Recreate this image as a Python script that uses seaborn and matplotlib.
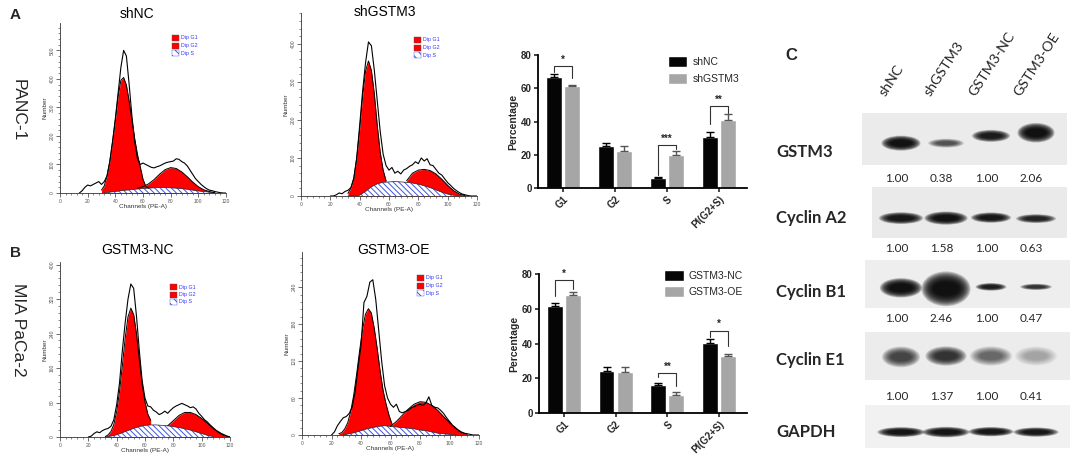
import numpy as np
import pandas as pd
import matplotlib
matplotlib.use("Agg")
import matplotlib.pyplot as plt
from matplotlib import transforms
from matplotlib.patches import Ellipse, Patch, Rectangle
from matplotlib.ticker import MultipleLocator
import seaborn as sns

W, H = 1074, 462

# ---------------- flow cytometry (ModFit) traces ----------------
# peak arrays hold the visible top of each red peak; S phase is drawn under them
shnc_raw = [0, 8, 20, 28, 25, 30, 35, 40, 30, 40, 60, 110, 180, 260, 350, 440, 500,
            480, 380, 270, 180, 120, 100, 105, 100, 95, 90, 88, 92, 95, 100, 105,
            108, 110, 112, 120, 118, 110, 105, 95, 80, 65, 50, 40, 30, 22, 15, 10,
            8, 5, 3, 1, 0, 0]
shnc_g1 = [10, 25, 60, 110, 180, 255, 338, 395, 405, 378, 322, 255, 190, 135, 92, 48, 24, 17]
shnc_g2 = [17, 22, 32, 47, 66, 82, 89, 86, 74, 57, 38, 22, 11, 5, 1]
shnc_s = [1, 3, 5, 8, 10, 12, 14, 16, 17, 18, 19, 19, 18, 17, 15, 13, 10, 7, 5, 3, 1]

shgstm3_raw = [0, 0, 3, 8, 6, 12, 15, 22, 45, 100, 185, 275, 350, 405, 395, 330, 250,
               170, 110, 80, 68, 75, 60, 65, 58, 68, 72, 78, 82, 90, 85, 100, 92, 98,
               82, 80, 70, 60, 55, 45, 35, 28, 20, 14, 9, 5, 3, 1, 0, 0, 0]
shgstm3_g1 = [7, 20, 48, 100, 175, 262, 328, 355, 330, 268, 185, 115, 68, 40]
shgstm3_g2 = [40, 60, 68, 70, 67, 58, 44, 28, 14, 5, 1]
shgstm3_s = [0, 0, 2, 12, 24, 32, 36, 37, 38, 37, 36, 34, 31, 27, 22, 16, 10, 5, 2, 0]

nc_raw = [0, 2, 8, 12, 10, 15, 18, 20, 25, 40, 75, 125, 200, 265, 320, 355, 345, 280,
          200, 130, 90, 72, 70, 62, 58, 52, 55, 60, 55, 62, 68, 72, 75, 78, 75, 72,
          68, 70, 65, 55, 48, 40, 35, 28, 22, 16, 12, 8, 5, 2, 0]
nc_g1 = [1, 5, 13, 29, 59, 105, 165, 229, 279, 299, 284, 239, 179, 123, 81, 53, 39]
nc_g2 = [26, 38, 50, 57, 57, 52, 43, 32, 20, 10, 3, 0]
nc_s = [0, 2, 5, 10, 15, 20, 24, 27, 28, 28, 27, 26, 24, 22, 19, 16, 12, 8, 4, 1]

oe_raw = [0, 5, 15, 22, 28, 30, 35, 45, 70, 110, 145, 215, 225, 248, 252, 220, 170,
          120, 80, 60, 50, 45, 50, 38, 36, 38, 40, 44, 46, 48, 50, 48, 52, 62, 48,
          45, 44, 40, 35, 28, 22, 16, 12, 8, 5, 3, 2, 1, 0, 0, 0]
oe_g1 = [2, 4, 10, 20, 38, 64, 98, 136, 170, 196, 205, 198, 173, 140, 103, 72, 50, 32, 18]
oe_g2 = [14, 22, 32, 42, 50, 54, 53, 48, 40, 30, 20, 11, 4, 1]
oe_s = [0, 2, 4, 7, 10, 12, 14, 15, 14, 13, 12, 11, 10, 8, 7, 5, 3, 2, 1, 0]

# ---------------- bar charts ----------------
phases = ["G1", "G2", "S", "PI(G2+S)"]
panc_shnc = [67, 25, 5.8, 30.4]
panc_shnc_err = [1.8, 2.0, 1.0, 3.0]
panc_shgstm3 = [61.2, 22.4, 20, 41]
panc_shgstm3_err = [1.0, 2.6, 2.3, 3.4]
panc_sig = ["*", "", "***", "**"]
panc_sig_top = [73.4, None, 26, 49.4]
panc_sig_left = [69.5, None, 8, 38.5]
panc_sig_right = [66, None, 23.5, 45]

mia_nc = [61.4, 24.4, 16.1, 40.3]
mia_nc_err = [1.9, 2.1, 1.2, 2.3]
mia_oe = [67.8, 23.4, 10.2, 32.6]
mia_oe_err = [1.9, 2.9, 1.7, 1.4]
mia_sig = ["*", "", "**", "*"]
mia_sig_top = [76.4, None, 23, 47.4]
mia_sig_left = [67.2, None, 20.5, 43.5]
mia_sig_right = [71.4, None, 15.4, 38.4]

# ---------------- western blot ----------------
blot_lanes = ["shNC", "shGSTM3", "GSTM3-NC", "GSTM3-OE"]
blot_proteins = ["GSTM3", "Cyclin A2", "Cyclin B1", "Cyclin E1", "GAPDH"]
blot_ratios = [["1.00", "0.38", "1.00", "2.06"],
               ["1.00", "1.58", "1.00", "0.63"],
               ["1.00", "2.46", "1.00", "0.47"],
               ["1.00", "1.37", "1.00", "0.41"]]
band_darkness = [[0.95, 0.42, 0.82, 1.0],
                 [0.88, 0.95, 0.88, 0.75],
                 [1.0, 1.0, 0.8, 0.62],
                 [0.5, 0.62, 0.32, 0.14],
                 [0.92, 0.93, 0.9, 0.88]]

sns.set_theme(style="ticks")
plt.rcParams["font.family"] = ["Liberation Sans", "DejaVu Sans"]
plt.rcParams["hatch.linewidth"] = 0.7

fig = plt.figure(figsize=(W / 100, H / 100), dpi=100)


def px_axes(x, y, w, h):
    return fig.add_axes([x / W, 1 - (y + h) / H, w / W, h / H])


def px_text(x, y, s, **kw):
    fig.text(x / W, 1 - y / H, s, **kw)


# ---------------- histograms ----------------
hist_panels = [
    dict(title="shNC", raw=shnc_raw, raw_ch=np.arange(14, 121, 2),
         g1=shnc_g1, g1_ch=np.arange(30, 65, 2), g2=shnc_g2, g2_ch=np.arange(56, 113, 4),
         s=shnc_s, s_ch=np.arange(32, 113, 4), ymax=596, ystep=100,
         box=(60, 23, 166, 170), title_xy=(137, 14), leg_xy=(172, 38)),
    dict(title="shGSTM3", raw=shgstm3_raw, raw_ch=np.arange(20, 121, 2),
         g1=shgstm3_g1, g1_ch=np.arange(32, 59, 2), g2=shgstm3_g2, g2_ch=np.arange(72, 113, 4),
         s=shgstm3_s, s_ch=np.arange(32, 109, 4), ymax=481, ystep=100,
         box=(301, 13, 176, 183), title_xy=(385, 12), leg_xy=(414, 40)),
    dict(title="GSTM3-NC", raw=nc_raw, raw_ch=np.arange(20, 121, 2),
         g1=nc_g1, g1_ch=np.arange(32, 65, 2), g2=nc_g2, g2_ch=np.arange(76, 121, 4),
         s=nc_s, s_ch=np.arange(32, 109, 4), ymax=406, ystep=80,
         box=(60, 262, 170, 175), title_xy=(137, 250), leg_xy=(170, 287)),
    dict(title="GSTM3-OE", raw=oe_raw, raw_ch=np.arange(20, 121, 2),
         g1=oe_g1, g1_ch=np.arange(25, 62, 2), g2=oe_g2, g2_ch=np.arange(60, 113, 4),
         s=oe_s, s_ch=np.arange(28, 105, 4), ymax=297, ystep=60,
         box=(302, 252, 177, 183), title_xy=(393, 250), leg_xy=(417, 278)),
]

for p in hist_panels:
    ax = px_axes(*p["box"])
    ax.fill_between(p["g1_ch"], 0, p["g1"], color="#ff0000", lw=0, zorder=2)
    ax.fill_between(p["g2_ch"], 0, p["g2"], color="#ff0000", lw=0, zorder=2)
    ax.fill_between(p["s_ch"], 0, p["s"], facecolor="white", edgecolor="#3f55e0",
                    hatch="\\\\\\\\\\\\", lw=0, zorder=3)
    ax.plot(p["s_ch"], p["s"], color="#222222", lw=0.5, zorder=4)
    ax.plot(p["g1_ch"], p["g1"], color="black", lw=0.7, zorder=4)
    ax.plot(p["g2_ch"], p["g2"], color="black", lw=0.7, zorder=4)
    ax.plot(p["raw_ch"], p["raw"], color="black", lw=0.8, zorder=5)
    ax.set_xlim(0, 120)
    ax.set_ylim(0, p["ymax"])
    ax.set_facecolor("none")
    for side in ("top", "right"):
        ax.spines[side].set_visible(False)
    for side in ("left", "bottom"):
        ax.spines[side].set_linewidth(0.6)
        ax.spines[side].set_color("#333333")
    ax.xaxis.set_major_locator(MultipleLocator(20))
    ax.xaxis.set_minor_locator(MultipleLocator(4))
    ax.yaxis.set_major_locator(MultipleLocator(p["ystep"]))
    ax.yaxis.set_minor_locator(MultipleLocator(p["ystep"] / 5))
    ax.tick_params(which="major", length=3, width=0.5, color="#333333",
                   labelsize=3.6, labelcolor="#555555", pad=1)
    ax.tick_params(which="minor", length=1.6, width=0.4, color="#333333")
    ax.tick_params(axis="y", labelrotation=90)
    for lab in ax.get_yticklabels():
        lab.set_verticalalignment("center")
    ax.set_xlabel("Channels (PE-A)", fontsize=4.6, labelpad=0.5, color="#333333")
    ax.set_ylabel("Number", fontsize=4.6, labelpad=1.5, color="#333333")
    px_text(p["title_xy"][0], p["title_xy"][1], p["title"], fontsize=10,
            ha="center", va="center", color="black")
    lx, ly = p["leg_xy"]
    for r, lab in enumerate(["Dip G1", "Dip G2", "Dip S"]):
        yy = ly + r * 7.5
        if lab == "Dip S":
            rect = Rectangle((lx / W, 1 - (yy + 3) / H), 7 / W, 6 / H,
                             transform=fig.transFigure, facecolor="white",
                             edgecolor="#3f55e0", hatch="\\\\\\\\", lw=0.3)
        else:
            rect = Rectangle((lx / W, 1 - (yy + 3) / H), 7 / W, 6 / H,
                             transform=fig.transFigure, facecolor="#ff0000",
                             edgecolor="#555555", lw=0.3)
        fig.add_artist(rect)
        px_text(lx + 9, yy, lab, fontsize=3.8, color="#3333ff", va="center")

# row / panel labels
px_text(10, 15, "A", fontsize=11, fontweight="bold", va="center")
px_text(10, 253, "B", fontsize=11, fontweight="bold", va="center")
px_text(785, 55, "C", fontsize=12, fontweight="bold", va="center")
px_text(18, 110, "PANC-1", fontsize=12.5, rotation=-90, ha="center", va="center")
px_text(18, 330, "MIA PaCa-2", fontsize=12.5, rotation=-90, ha="center", va="center")


# ---------------- bar charts ----------------
def draw_bars(box, a_name, a_vals, a_err, b_name, b_vals, b_err,
              sig, sig_top, sig_left, sig_right, leg_anchor):
    ax = px_axes(*box)
    df = pd.DataFrame({"phase": phases * 2,
                       "group": [a_name] * 4 + [b_name] * 4,
                       "pct": a_vals + b_vals})
    sns.barplot(data=df, x="phase", y="pct", hue="group", hue_order=[a_name, b_name],
                palette=["#050505", "#a6a6a6"], saturation=1, width=0.7, gap=0.12,
                errorbar=None, legend=False, ax=ax)
    bars = sorted(ax.patches, key=lambda b: b.get_x())
    xs = [b.get_x() + b.get_width() / 2 for b in bars]
    xa, xb = xs[0::2], xs[1::2]
    ax.errorbar(xa, a_vals, yerr=[[0] * 4, a_err], fmt="none", ecolor="black",
                elinewidth=1.0, capsize=3, capthick=1.0)
    ax.errorbar(xb, b_vals, yerr=[[0] * 4, b_err], fmt="none", ecolor="#555555",
                elinewidth=1.0, capsize=3, capthick=1.0)
    for i, star in enumerate(sig):
        if not star:
            continue
        ax.plot([xa[i], xa[i], xb[i], xb[i]],
                [sig_left[i], sig_top[i], sig_top[i], sig_right[i]],
                color="#333333", lw=0.8)
        ax.text((xa[i] + xb[i]) / 2, sig_top[i] + 0.8, star, ha="center", va="bottom",
                fontsize=7, fontweight="bold")
    ax.set_xlim(-0.48, 3.54)
    ax.set_ylim(0, 80)
    ax.yaxis.set_major_locator(MultipleLocator(20))
    sns.despine(ax=ax)
    for side in ("left", "bottom"):
        ax.spines[side].set_linewidth(1.3)
        ax.spines[side].set_color("black")
    ax.tick_params(length=3, width=1.2, labelsize=7, pad=1.5)
    for lab in ax.get_xticklabels() + ax.get_yticklabels():
        lab.set_fontweight("bold")
    plt.setp(ax.get_xticklabels(), rotation=45, ha="right", rotation_mode="anchor")
    ax.set_xlabel("")
    ax.set_ylabel("Percentage", fontsize=7.5, fontweight="bold", labelpad=2)
    handles = [Patch(facecolor="#050505"), Patch(facecolor="#a6a6a6")]
    ax.legend(handles, [a_name, b_name], loc="upper left", bbox_to_anchor=leg_anchor,
              frameon=False, fontsize=7.5, handlelength=1.9, handleheight=1.2,
              labelspacing=0.55, handletextpad=0.5, borderaxespad=0, borderpad=0)


draw_bars((538, 55, 209, 133), "shNC", panc_shnc, panc_shnc_err,
          "shGSTM3", panc_shgstm3, panc_shgstm3_err,
          panc_sig, panc_sig_top, panc_sig_left, panc_sig_right, (0.62, 0.99))
draw_bars((539, 274, 208, 139), "GSTM3-NC", mia_nc, mia_nc_err,
          "GSTM3-OE", mia_oe, mia_oe_err,
          mia_sig, mia_sig_top, mia_sig_left, mia_sig_right, (0.6, 1.03))

# ---------------- western blot ----------------
lane0_px, lane_step = 901, 45
blot_boxes = [(862, 113, 205, 52), (872, 187, 195, 51), (865, 260, 205, 48),
              (865, 332, 205, 48), (865, 405, 205, 43)]
blot_bg = ["#ebebeb", "#eaeaea", "#eeeeee", "#ececec", "#f1f1f1"]
band_w = [[0.76, 0.7, 0.74, 0.72], [0.86, 0.84, 0.78, 0.78], [0.82, 0.95, 0.6, 0.62],
          [0.74, 0.8, 0.82, 0.82], [0.92, 0.92, 0.88, 0.88]]
band_h = [[0.2, 0.12, 0.16, 0.26], [0.16, 0.18, 0.14, 0.12], [0.28, 0.5, 0.11, 0.09],
          [0.3, 0.28, 0.28, 0.28], [0.16, 0.17, 0.15, 0.15]]
band_y = [[0.42, 0.42, 0.56, 0.62], [0.39, 0.39, 0.4, 0.38], [0.42, 0.4, 0.44, 0.44],
          [0.48, 0.5, 0.5, 0.5], [0.37, 0.37, 0.38, 0.37]]
ratio_y = [-0.25, -0.2, -0.21, -0.35]
label_y = [152, 218, 292, 360, 432]

blot_axes = []
for r, (bx, by, bw, bh) in enumerate(blot_boxes):
    ax = px_axes(bx, by, bw, bh)
    ax.set_xlim((bx - lane0_px) / lane_step, (bx + bw - lane0_px) / lane_step)
    ax.set_ylim(0, 1)
    ax.set_facecolor(blot_bg[r])
    ax.set_xticks([])
    ax.set_yticks([])
    for sp in ax.spines.values():
        sp.set_visible(False)
    for i, dark in enumerate(band_darkness[r]):
        for k in range(12):
            ax.add_patch(Ellipse((i, band_y[r][i]),
                                 band_w[r][i] * (1.15 - 0.05 * k),
                                 band_h[r][i] * (1.45 - 0.08 * k),
                                 facecolor="black", edgecolor="none", alpha=0.19 * dark))
    trans = transforms.blended_transform_factory(ax.transData, ax.transAxes)
    if r < len(blot_ratios):
        for i, val in enumerate(blot_ratios[r]):
            ax.text(i - 0.1, ratio_y[r], val, transform=trans, ha="center", va="center",
                    fontsize=8.5, family=["Lato", "DejaVu Sans"], clip_on=False)
    px_text(776, label_y[r], blot_proteins[r], fontsize=12, fontweight="bold",
            family=["Lato", "DejaVu Sans"], va="center")
    blot_axes.append(ax)

top_ax = blot_axes[0]
trans = transforms.blended_transform_factory(top_ax.transData, top_ax.transAxes)
for i, lane in enumerate(blot_lanes):
    top_ax.text(i - 0.3, 1.29, lane, transform=trans, rotation=57, ha="left",
                va="bottom", rotation_mode="anchor", fontsize=10.3,
                family=["Lato", "DejaVu Sans"], clip_on=False)

fig.savefig("out.png", dpi=100)
